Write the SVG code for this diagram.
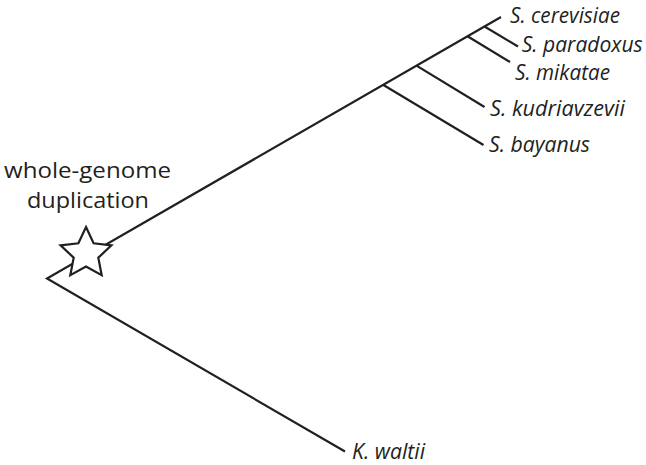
<svg xmlns="http://www.w3.org/2000/svg" width="646" height="465" viewBox="0 0 646 465">
  <style>
    .edge { fill: none; stroke: #231f20; stroke-width: 2.2; stroke-linecap: butt; stroke-linejoin: miter; }
    .sp { font-family: "Open Sans", "Liberation Sans", sans-serif; font-style: italic; font-size: 21px; fill: #231f20; }
    .note { font-family: "Open Sans", "Liberation Sans", sans-serif; font-size: 21px; fill: #231f20; text-anchor: middle; }
    .star { fill: #ffffff; stroke: #231f20; stroke-width: 2.2; stroke-linejoin: miter; }
  </style>
  <rect width="646" height="465" fill="#ffffff"/>
  <g id="connectors">
    <path class="edge" d="M345,451.5 L47,278.5 L501,17"/>
    <path class="edge" d="M383,84.8 L483.5,145"/>
    <path class="edge" d="M416.5,65.6 L484.5,107"/>
    <path class="edge" d="M467.5,36.3 L510,62"/>
    <path class="edge" d="M484.5,26.5 L518,46.5"/>
  </g>
  <g id="wgd-star">
    <polygon class="star" points="86,227 93.6,243.3 111.4,245.4 98.3,257.7 101.7,275.2 86,266.6 70.3,275.2 73.7,257.7 60.6,245.4 78.4,243.3"/>
  </g>
  <g id="wgd-label">
    <text class="note" x="87.5" y="178.3" textLength="167" lengthAdjust="spacingAndGlyphs">whole-genome</text>
    <text class="note" x="88" y="207.5" textLength="122" lengthAdjust="spacingAndGlyphs">duplication</text>
  </g>
  <g id="s-cerevisiae"><text class="sp" x="510" y="22.7" textLength="110" lengthAdjust="spacingAndGlyphs">S. cerevisiae</text></g>
  <g id="s-paradoxus"><text class="sp" x="521.7" y="52" textLength="121" lengthAdjust="spacingAndGlyphs">S. paradoxus</text></g>
  <g id="s-mikatae"><text class="sp" x="515" y="80" textLength="95" lengthAdjust="spacingAndGlyphs">S. mikatae</text></g>
  <g id="s-kudriavzevii"><text class="sp" x="490" y="115.7" textLength="135" lengthAdjust="spacingAndGlyphs">S. kudriavzevii</text></g>
  <g id="s-bayanus"><text class="sp" x="489" y="152.3" textLength="101" lengthAdjust="spacingAndGlyphs">S. bayanus</text></g>
  <g id="k-waltii"><text class="sp" x="352" y="459" textLength="73" lengthAdjust="spacingAndGlyphs">K. waltii</text></g>
</svg>
